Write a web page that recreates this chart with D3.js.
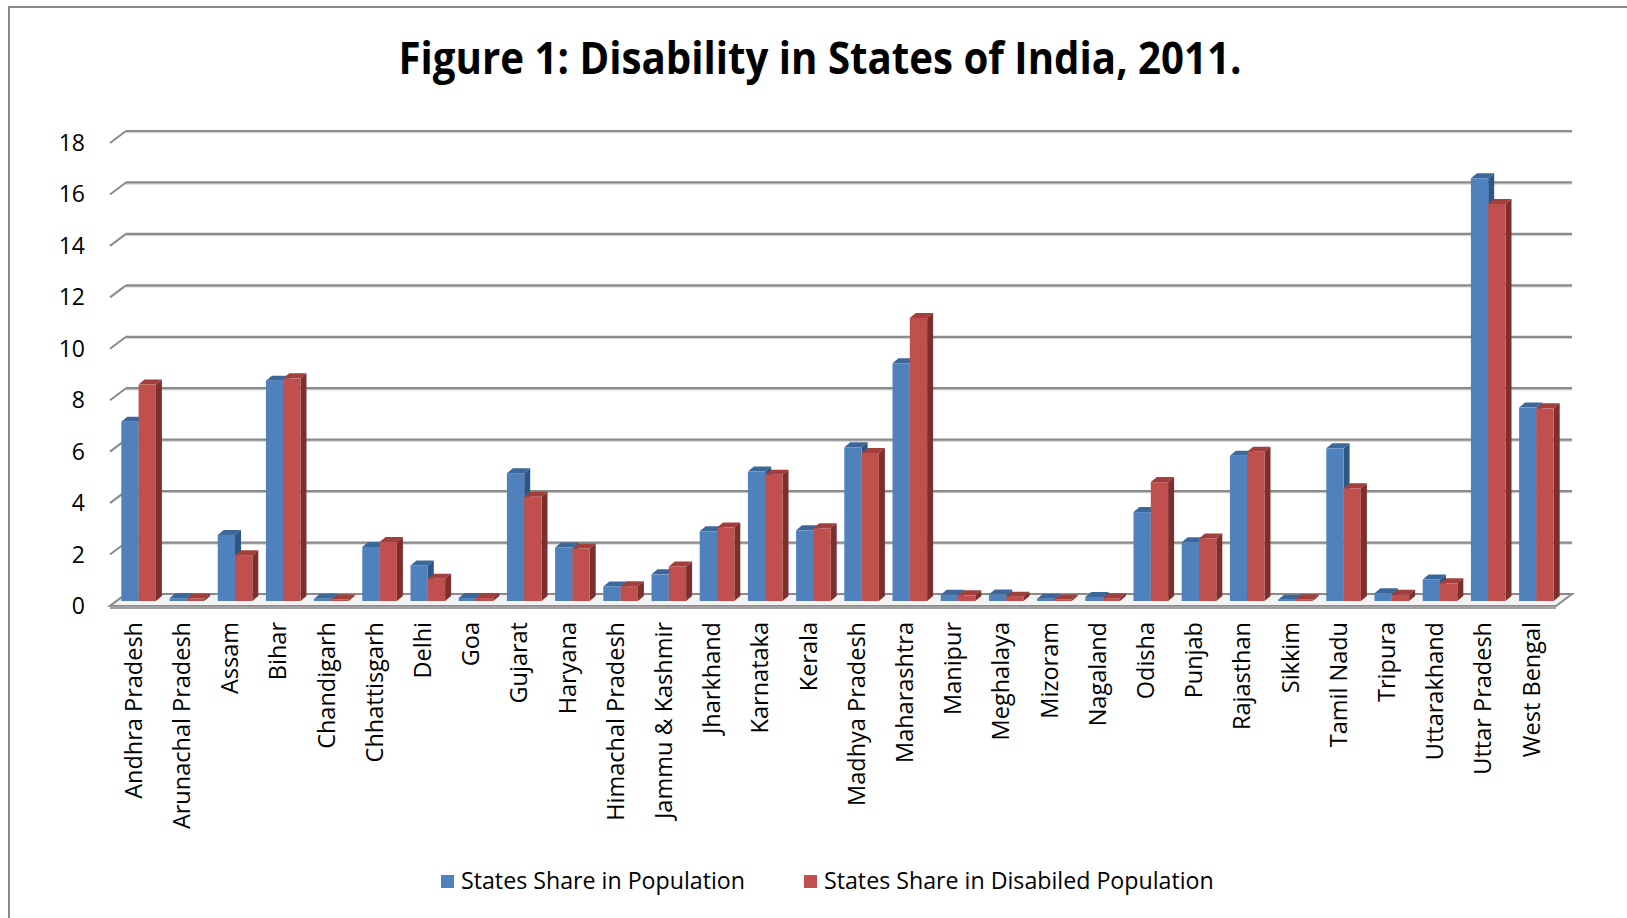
<!DOCTYPE html>
<html>
<head>
<meta charset="utf-8">
<script src="https://cdn.jsdelivr.net/npm/d3@7"></script>
<style>
  html, body { margin: 0; padding: 0; background: #ffffff; }
  svg { display: block; }
</style>
</head>
<body>
<script>
// ---------------- DATA ----------------
const states = ["Andhra Pradesh","Arunachal Pradesh","Assam","Bihar","Chandigarh","Chhattisgarh","Delhi","Goa","Gujarat","Haryana","Himachal Pradesh","Jammu & Kashmir","Jharkhand","Karnataka","Kerala","Madhya Pradesh","Maharashtra","Manipur","Meghalaya","Mizoram","Nagaland","Odisha","Punjab","Rajasthan","Sikkim","Tamil Nadu","Tripura","Uttarakhand","Uttar Pradesh","West Bengal"];
const popShare = [7.0,0.11,2.58,8.6,0.09,2.11,1.39,0.12,4.99,2.09,0.57,1.04,2.72,5.05,2.76,6.0,9.28,0.24,0.25,0.09,0.16,3.47,2.29,5.67,0.05,5.96,0.30,0.84,16.5,7.55];
const disShare = [8.45,0.10,1.79,8.69,0.06,2.30,0.87,0.12,4.07,2.05,0.58,1.35,2.87,4.93,2.84,5.78,11.05,0.22,0.17,0.06,0.11,4.64,2.44,5.83,0.07,4.40,0.24,0.69,15.5,7.52];
const seriesNames = ["States Share in Population","States Share in Disabiled Population"];
const yTicks = [0,2,4,6,8,10,12,14,16,18];
const titleText = "Figure 1: Disability in States of India, 2011.";

// ---------------- LAYOUT ----------------
const W = 1627, H = 918;
const svg = d3.select("body").append("svg").attr("width", W).attr("height", H);

const colors = {
  front: ["#4F81BD", "#C0504D"],
  top:   ["#3C679A", "#A13F3C"],
  side:  ["#2F5684", "#7E2F2D"]
};

// outer border
svg.append("rect").attr("x", 9).attr("y", 7).attr("width", W + 20).attr("height", H + 20)
  .attr("fill", "#fff").attr("stroke", "#8a8a8a").attr("stroke-width", 2);

// title
svg.append("text")
  .attr("x", 820).attr("y", 74)
  .attr("text-anchor", "middle")
  .attr("font-family", "'Open Sans', sans-serif")
  .attr("font-weight", "bold")
  .attr("font-size", 44)
  .attr("textLength", 843).attr("lengthAdjust", "spacingAndGlyphs")
  .attr("fill", "#000")
  .text(titleText);

// scales
const wallLeft = 126, wallRight = 1572;
const depthDX = -16, depthDY = 12;      // wall-to-front offset
const y = d3.scaleLinear().domain([0, 18]).range([594, 131]);
const yBar = d3.scaleLinear().domain([0, 18]).range([601, 601 - 18 * 25.62]);
const x = d3.scaleBand().domain(states).range([114.5, 114.5 + 30 * 48.2]).padding(0);
const xs = d3.scaleBand().domain(seriesNames).range([0, x.bandwidth()]).paddingInner(0).paddingOuter(0.393);
const bdx = 6, bdy = -5;                 // bar depth

// gridlines on back wall with oblique ticks
const grid = svg.append("g");
yTicks.forEach(v => {
  const yy = y(v);
  if (v !== 0) {
    grid.append("line").attr("x1", wallLeft).attr("x2", wallRight).attr("y1", yy + 1.5).attr("y2", yy + 1.5)
      .attr("stroke", "#d6d6d6").attr("stroke-width", 1.5);
    grid.append("line").attr("x1", wallLeft).attr("x2", wallRight).attr("y1", yy).attr("y2", yy)
      .attr("stroke", "#8a8a8a").attr("stroke-width", 2.2);
  }
  grid.append("line").attr("x1", wallLeft + depthDX).attr("y1", yy + depthDY).attr("x2", wallLeft).attr("y2", yy)
    .attr("stroke", "#8a8a8a").attr("stroke-width", 2);
});

// floor
const y0 = y(0);
svg.append("polygon")
  .attr("points", [[wallLeft, y0], [wallRight, y0], [wallRight + depthDX, y0 + depthDY], [wallLeft + depthDX, y0 + depthDY]].map(p => p.join(",")).join(" "))
  .attr("fill", "#f3f3f3").attr("stroke", "#8a8a8a").attr("stroke-width", 2);
svg.append("polygon")
  .attr("points", [[wallLeft + depthDX, y0 + depthDY], [wallRight + depthDX, y0 + depthDY], [wallRight + depthDX, y0 + depthDY + 3], [wallLeft + depthDX, y0 + depthDY + 3]].map(p => p.join(",")).join(" "))
  .attr("fill", "#a0a0a0");

// y tick labels
svg.append("g").selectAll("text").data(yTicks).join("text")
  .attr("x", 85).attr("y", d => y(d) + depthDY)
  .attr("dy", "0.35em")
  .attr("text-anchor", "end")
  .attr("font-family", "'Open Sans', sans-serif")
  .attr("font-size", 23)
  .attr("fill", "#000")
  .text(d => d);

// bars
const seriesVals = [popShare, disShare];
const barsG = svg.append("g");
states.forEach((s, i) => {
  seriesNames.forEach((sn, k) => {
    const v = seriesVals[k][i];
    const bx = x(s) + xs(sn);
    const bw = xs.bandwidth();
    const yb = yBar(0);
    const yt = yBar(v);
    const g = barsG.append("g");
    // top face
    g.append("polygon")
      .attr("points", [[bx, yt], [bx + bw, yt], [bx + bw + bdx, yt + bdy], [bx + bdx, yt + bdy]].map(p => p.join(",")).join(" "))
      .attr("fill", colors.top[k]);
    // side face
    g.append("polygon")
      .attr("points", [[bx + bw, yt], [bx + bw + bdx, yt + bdy], [bx + bw + bdx, yb + bdy], [bx + bw, yb]].map(p => p.join(",")).join(" "))
      .attr("fill", colors.side[k]);
    // front face
    g.append("rect").attr("x", bx).attr("y", yt).attr("width", bw).attr("height", Math.max(0, yb - yt))
      .attr("fill", colors.front[k]);
  });
});

// x labels
svg.append("g").selectAll("text").data(states).join("text")
  .attr("transform", d => `translate(${x(d) + x.bandwidth() / 2 - 5},622) rotate(-90)`)
  .attr("dy", "0.35em")
  .attr("text-anchor", "end")
  .attr("font-family", "'Open Sans', sans-serif")
  .attr("font-size", 23.5)
  .attr("fill", "#000")
  .text(d => d);

// legend
const legend = svg.append("g");
const legX = [441, 804];
seriesNames.forEach((sn, k) => {
  legend.append("rect").attr("x", legX[k]).attr("y", 875).attr("width", 13).attr("height", 13)
    .attr("fill", colors.front[k]);
  legend.append("text").attr("x", legX[k] + 20).attr("y", 881).attr("dy", "0.35em")
    .attr("font-family", "'Open Sans', sans-serif").attr("font-size", 23.2).attr("fill", "#000")
    .text(sn);
});
</script>
</body>
</html>
